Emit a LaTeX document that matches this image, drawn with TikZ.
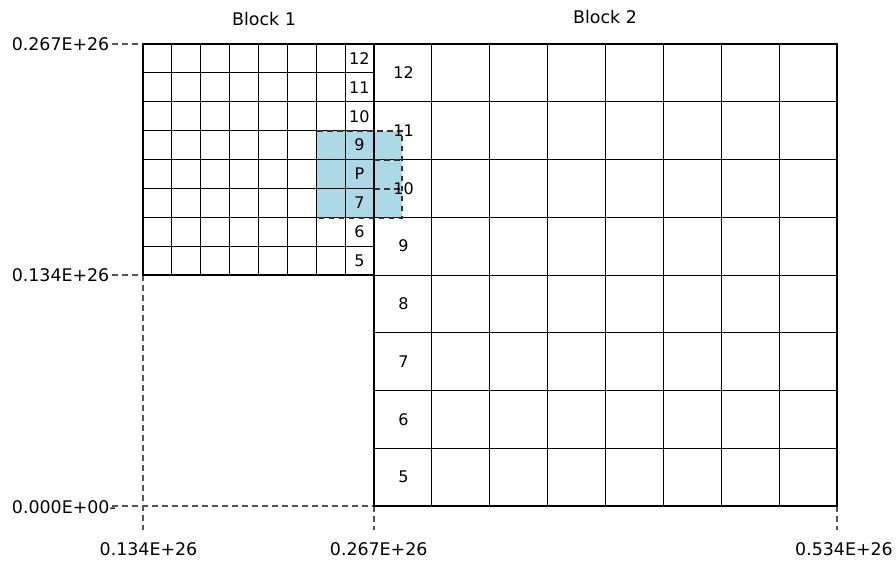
\documentclass[tikz,border=0pt]{standalone}
\usepackage{fontspec}
\setmainfont{DejaVu Sans}
\definecolor{ghostblue}{HTML}{ADD8E6}
\definecolor{guidegray}{HTML}{555555}
\begin{document}
\begin{tikzpicture}[x=1pt,y=-1pt,
  gridline/.style={line width=1pt,black},
  blockborder/.style={line width=2.8pt,black},
  guide/.style={line width=1.2pt,guidegray,dash pattern=on 5.5pt off 4.5pt},
  ghostline/.style={line width=1.2pt,black!80,dash pattern=on 5.5pt off 4.5pt},
  celllabel/.style={font=\fontsize{16}{19}\selectfont,inner sep=0pt},
  axlabel/.style={font=\fontsize{17.4}{21}\selectfont,inner sep=0pt},
  titlelabel/.style={font=\fontsize{17.4}{21}\selectfont,inner sep=0pt}]
\useasboundingbox (0,0) rectangle (896,561);
% corner coordinates
\coordinate (b1tl) at (143,44);
\coordinate (b1br) at (374,275);
\coordinate (b2tl) at (374,44);
\coordinate (b2br) at (837,506);
% ghost / stencil fill
\fill[ghostblue] (317,131) rectangle (402,218);
% block 1 grid
\foreach \i in {1,...,7} {
  \draw[gridline] ({143+28.875*\i},44) -- ({143+28.875*\i},275);
  \draw[gridline] (143,{44+28.875*\i}) -- (374,{44+28.875*\i});
}
% block 2 grid
\foreach \i in {1,...,7} {
  \draw[gridline] ({374+57.875*\i},44) -- ({374+57.875*\i},506);
  \draw[gridline] (374,{44+57.75*\i}) -- (837,{44+57.75*\i});
}
% ghost cells
\coordinate (g0) at (317,131);
\coordinate (g1) at (402,218);
\draw[ghostline] (g0) -- (402,131) -- (g1) -- (317,218);
\draw[ghostline] (374,160) -- (402,160);
\draw[ghostline] (374,189) -- (402,189);
% guides
\draw[guide] (112,44) -- (b1tl);
\draw[guide] (112,275) -- (143,275);
\draw[guide] (112,506) -- (374,506);
\draw[guide] (143,275) -- (143,530);
\draw[guide] (374,506) -- (374,530);
\draw[guide] (837,506) -- (837,530);
% block borders
\draw[blockborder] (b1tl) rectangle (b1br);
\draw[blockborder] (b2tl) rectangle (b2br);
% titles
\node[titlelabel] (t1) at (264,19) {Block 1};
\node[titlelabel] (t2) at (605,17) {Block 2};
% block 1 labels
\foreach \lab [count=\k from 0] in {12,11,10,9,P,7,6,5} {
  \node[celllabel] (l1-\k) at (359.4,{44+28.875*(\k+0.5)}) {\lab};
}
% block 2 labels
\foreach \lab [count=\k from 0] in {12,11,10,9,8,7,6,5} {
  \node[celllabel] (l2-\k) at (403.5,{44+57.75*(\k+0.5)}) {\lab};
}
% axis labels
\node[axlabel,anchor=east] (ya) at (109.5,44) {0.267E+26};
\node[axlabel,anchor=east] (yb) at (109.5,275) {0.134E+26};
\node[axlabel,anchor=east] (yc) at (116,507) {0.000E+00-};
\node[axlabel] (xa) at (148.5,549) {0.134E+26};
\node[axlabel] (xb) at (378.7,549) {0.267E+26};
\node[axlabel] (xc) at (844,549) {0.534E+26};
\end{tikzpicture}
\end{document}
